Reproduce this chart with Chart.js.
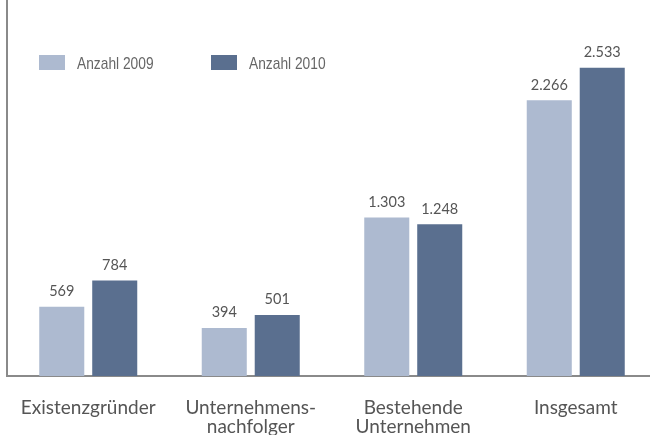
<!DOCTYPE html>
<html>
<head>
<meta charset="utf-8">
<script src="https://cdn.jsdelivr.net/npm/chart.js@4.4.1/dist/chart.umd.min.js"></script>
<style>
	html, body { margin: 0; padding: 0; background: #fff; overflow: hidden; }
	#wrap { position: relative; width: 657px; height: 435px; }
</style>
</head>
<body>
<div id="wrap"><canvas id="chart-bars"></canvas></div>
<script>
// Chart data
const CATEGORIES = [
	"Existenzgründer",
	["Unternehmens-", "nachfolger"],
	["Bestehende", "Unternehmen"],
	"Insgesamt",
];
const SERIES_LABELS = ["Anzahl 2009", "Anzahl 2010"];
const VALUES_2009 = [569, 394, 1303, 2266];
const VALUES_2010 = [784, 501, 1248, 2533];
const Y_MAX = 3090;

const COLOR_2009 = "#adbad0";
const COLOR_2010 = "#5a6f8f";
const AXIS_COLOR = "#8a8a8a";
const TEXT_COLOR = "#555555";

const formatDe = (v) => String(v).replace(/\B(?=(\d{3})+(?!\d))/g, ".");

// Value labels above the bars
const valueLabels = {
	id: "valueLabels",
	afterDatasetsDraw(chart) {
		const ctx = chart.ctx;
		ctx.save();
		ctx.font = "14.5px Lato";
		ctx.fillStyle = TEXT_COLOR;
		ctx.textAlign = "center";
		ctx.textBaseline = "bottom";
		chart.data.datasets.forEach((ds, i) => {
			chart.getDatasetMeta(i).data.forEach((bar, j) => {
				ctx.fillText(formatDe(ds.data[j]), bar.x, bar.y - 8);
			});
		});
		ctx.restore();
	},
};

// Legend drawn inside the plot area (narrow sans, so squeeze the text a bit)
const innerLegend = {
	id: "innerLegend",
	afterDraw(chart) {
		const ctx = chart.ctx;
		const starts = [39, 211];
		ctx.save();
		ctx.font = "17px 'Liberation Sans'";
		ctx.textBaseline = "middle";
		ctx.textAlign = "left";
		chart.data.datasets.forEach((ds, i) => {
			const x = starts[i];
			ctx.fillStyle = ds.backgroundColor;
			ctx.fillRect(x, 55, 26, 15);
			ctx.save();
			ctx.translate(x + 38, 64);
			ctx.scale(0.81, 1);
			ctx.fillStyle = "#666666";
			ctx.fillText(ds.label, 0, 0);
			ctx.restore();
		});
		ctx.restore();
	},
};

const DATA = {
	labels: CATEGORIES,
	datasets: [
		{
			label: SERIES_LABELS[0],
			data: VALUES_2009,
			backgroundColor: COLOR_2009,
			hoverBackgroundColor: COLOR_2009,
		},
		{
			label: SERIES_LABELS[1],
			data: VALUES_2010,
			backgroundColor: COLOR_2010,
			hoverBackgroundColor: COLOR_2010,
		},
	],
};

const CONFIG = {
	type: "bar",
	data: DATA,
	options: {
		responsive: true,
		maintainAspectRatio: false,
		animation: false,
		layout: { padding: 0 },
		datasets: {
			bar: {
				barPercentage: 0.85,
				categoryPercentage: 0.652,
				borderWidth: 0,
			},
		},
		plugins: {
			legend: { display: false },
			title: { display: false },
			tooltip: { enabled: false },
		},
		scales: {
			x: {
				border: { display: true, color: AXIS_COLOR, width: 2 },
				grid: { display: false, drawTicks: false },
				ticks: {
					color: TEXT_COLOR,
					font: { family: "Lato", size: 19, lineHeight: 1.0 },
					padding: 22,
					maxRotation: 0,
					autoSkip: false,
				},
				afterFit(scale) {
					scale.height = 59;
					scale.paddingLeft = 0;
					scale.paddingRight = 0;
				},
			},
			y: {
				min: 0,
				max: Y_MAX,
				border: { display: true, color: AXIS_COLOR, width: 2 },
				grid: { display: false, drawTicks: false },
				ticks: { display: false },
				afterFit(scale) {
					scale.width = 7;
				},
			},
		},
	},
	plugins: [valueLabels, innerLegend],
};

// Init chart
const WRAPPER = document.getElementById("chart-bars");
if (WRAPPER) {
	new Chart(WRAPPER, CONFIG);
}
</script>
</body>
</html>
